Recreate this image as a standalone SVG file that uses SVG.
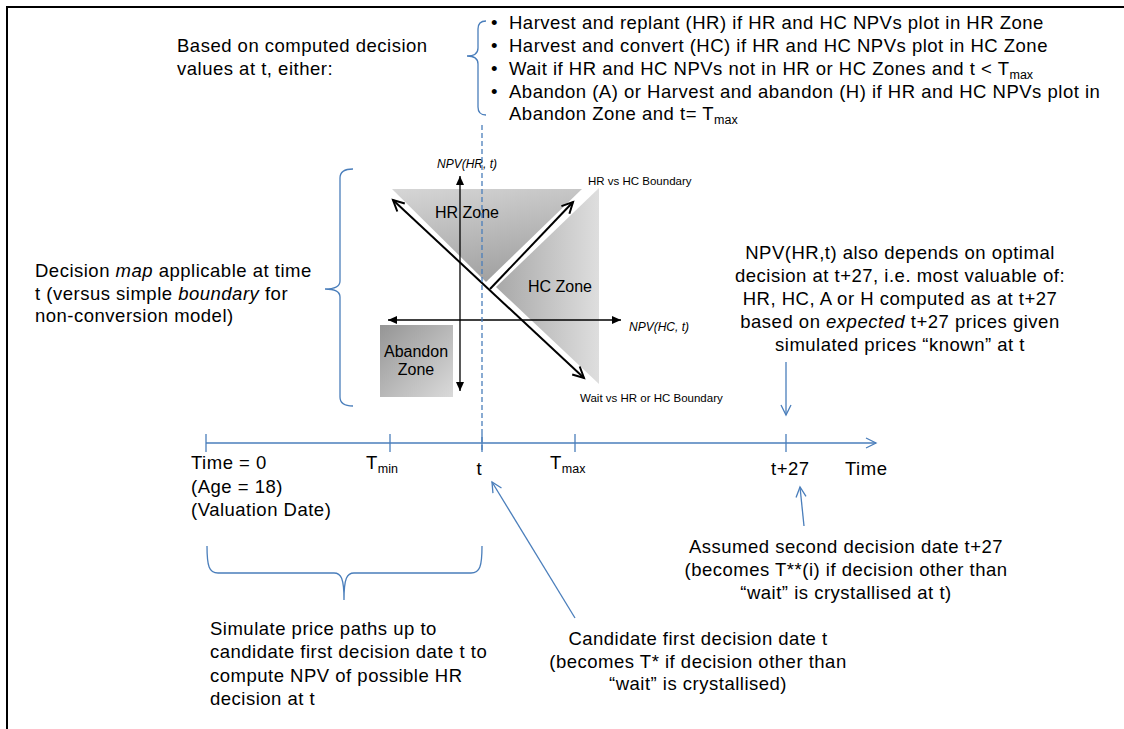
<svg xmlns="http://www.w3.org/2000/svg" width="1124" height="729" viewBox="0 0 1124 729">
<style>
text{font-family:"Liberation Sans",Arial,sans-serif;fill:#000}
.t{font-size:18.5px;letter-spacing:0.5px}
.sub{font-size:12.5px;letter-spacing:0}
.z{font-size:16px}
.sm{font-size:11.5px}
.it{font-size:12px;font-style:italic}
.blue{fill:none;stroke:#4a7ebb;stroke-width:1.3}
.blk{fill:none;stroke:#000;stroke-width:2}
.ax{fill:none;stroke:#000;stroke-width:1.3}
</style>
<defs>
<marker id="chevB" markerUnits="userSpaceOnUse" markerWidth="14" markerHeight="14" refX="12" refY="7" orient="auto-start-reverse" overflow="visible"><path d="M2,2 L12,7 L2,12" fill="none" stroke="#4a7ebb" stroke-width="1.3"/></marker>
<marker id="chevK" markerUnits="userSpaceOnUse" markerWidth="16" markerHeight="16" refX="13" refY="8" orient="auto-start-reverse" overflow="visible"><path d="M2,2.5 L13,8 L2,13.5" fill="none" stroke="#000" stroke-width="2"/></marker>
<marker id="triK" markerUnits="userSpaceOnUse" markerWidth="10" markerHeight="10" refX="9" refY="5" orient="auto-start-reverse" overflow="visible"><path d="M0,1 L9,5 L0,9 Z" fill="#000"/></marker>
<linearGradient id="gHR" x1="0" y1="0" x2="0.35" y2="1"><stop offset="0" stop-color="#d6d6d6"/><stop offset="1" stop-color="#a3a3a3"/></linearGradient>
<linearGradient id="gHC" x1="0" y1="0.5" x2="1" y2="0.5"><stop offset="0" stop-color="#a8a8a8"/><stop offset="1" stop-color="#dedede"/></linearGradient>
<linearGradient id="gAb" x1="0" y1="0" x2="1" y2="1"><stop offset="0" stop-color="#959595"/><stop offset="1" stop-color="#dadada"/></linearGradient>
</defs>
<rect width="1124" height="729" fill="#fff"/>
<path id="frame" d="M7,729 V7 H1124" fill="none" stroke="#000" stroke-width="2"/>

<g id="decision-rules">
<text class="t" x="177" y="52">Based on computed decision</text>
<text class="t" x="177" y="75">values at t, either:</text>
<text class="t" x="491" y="28.5">•</text>
<text class="t" x="509" y="28.5">Harvest and replant (HR) if HR and HC NPVs plot in HR Zone</text>
<text class="t" x="491" y="51.5">•</text>
<text class="t" x="509" y="51.5">Harvest and convert (HC) if HR and HC NPVs plot in HC Zone</text>
<text class="t" x="491" y="74.5">•</text>
<text class="t" x="509" y="74.5">Wait if HR and HC NPVs not in HR or HC Zones and t &lt; T<tspan class="sub" dy="4">max</tspan></text>
<text class="t" x="491" y="97.5">•</text>
<text class="t" x="509" y="97.5">Abandon (A) or Harvest and abandon (H) if HR and HC NPVs plot in</text>
<text class="t" x="509" y="119.5">Abandon Zone and t= T<tspan class="sub" dy="4">max</tspan></text>
</g>

<g id="decision-map-label">
<text class="t" x="35" y="276.5">Decision <tspan font-style="italic">map</tspan> applicable at time</text>
<text class="t" x="35" y="299.5">t (versus simple <tspan font-style="italic">boundary</tspan> for</text>
<text class="t" x="35" y="322">non-conversion model)</text>
</g>

<g id="hr-zone">
<polygon points="392,189 582,189 486,282" fill="url(#gHR)"/>
<text class="z" x="467" y="218" text-anchor="middle">HR Zone</text>
</g>
<g id="hc-zone">
<polygon points="599,188 599,384 496,287" fill="url(#gHC)"/>
<text class="z" x="560" y="292" text-anchor="middle">HC Zone</text>
</g>
<g id="abandon-zone">
<rect x="380" y="325" width="73" height="72" fill="url(#gAb)"/>
<text class="z" x="416" y="357" text-anchor="middle">Abandon</text>
<text class="z" x="416" y="375" text-anchor="middle">Zone</text>
</g>

<g id="axes">
<line class="ax" x1="460" y1="176" x2="460" y2="391" marker-start="url(#triK)" marker-end="url(#triK)"/>
<line class="ax" x1="388" y1="320" x2="621" y2="320" marker-start="url(#triK)" marker-end="url(#triK)"/>
<text class="it" x="437" y="168">NPV(HR, t)</text>
<text class="it" x="629" y="331">NPV(HC, t)</text>
</g>

<g id="boundaries">
<line class="blk" x1="393" y1="200" x2="584" y2="378" marker-start="url(#chevK)" marker-end="url(#chevK)"/>
<line class="blk" x1="490" y1="289" x2="573" y2="202" marker-end="url(#chevK)"/>
<text class="sm" x="588" y="185">HR vs HC Boundary</text>
<text class="sm" x="580" y="402">Wait vs HR or HC Boundary</text>
</g>

<g id="braces">
<path class="blue" d="M486,21 Q478,21 478,29 V48 Q478,56 467,56 Q478,56 478,64 V107 Q478,115 486,115"/>
<path class="blue" d="M353,169 Q340,169 340,178 V281 Q340,289 325,289 Q340,289 340,297 V397 Q340,406 353,406"/>
<path class="blue" d="M207,546 C207,566 209,573 218,573 L334,573 C341,573 344,578 344,600 C344,578 347,573 354,573 L471,573 C480,573 482,566 482,546"/>
</g>

<g id="timeline">
<line class="blue" x1="206" y1="443" x2="876" y2="443" marker-end="url(#chevB)"/>
<line class="blue" x1="206" y1="434" x2="206" y2="452"/>
<line class="blue" x1="390" y1="434" x2="390" y2="452"/>
<line class="blue" x1="482" y1="434" x2="482" y2="452"/>
<line class="blue" x1="575" y1="434" x2="575" y2="452"/>
<line class="blue" x1="786" y1="434" x2="786" y2="452"/>
<text class="t" x="191" y="469">Time = 0</text>
<text class="t" x="191" y="493">(Age = 18)</text>
<text class="t" x="191" y="516">(Valuation Date)</text>
<text class="t" x="366" y="469">T<tspan class="sub" dy="4">min</tspan></text>
<text class="t" x="476.5" y="475">t</text>
<text class="t" x="550" y="469">T<tspan class="sub" dy="4">max</tspan></text>
<text class="t" x="771" y="475">t+27</text>
<text class="t" x="845" y="475">Time</text>
</g>

<g id="notes">
<text class="t" text-anchor="middle" x="900" y="258.5">NPV(HR,t) also depends on optimal</text>
<text class="t" text-anchor="middle" x="900" y="281.5">decision at t+27, i.e. most valuable of:</text>
<text class="t" text-anchor="middle" x="900" y="304.5">HR, HC, A or H computed as at t+27</text>
<text class="t" text-anchor="middle" x="900" y="328">based on <tspan font-style="italic">expected</tspan> t+27 prices given</text>
<text class="t" text-anchor="middle" x="900" y="351">simulated prices “known” at t</text>
<text class="t" x="210" y="634.5">Simulate price paths up to</text>
<text class="t" x="210" y="658">candidate first decision date t to</text>
<text class="t" x="210" y="681.5">compute NPV of possible HR</text>
<text class="t" x="210" y="704.5">decision at t</text>
<text class="t" text-anchor="middle" x="698" y="644.5">Candidate first decision date t</text>
<text class="t" text-anchor="middle" x="698" y="667.5">(becomes T* if decision other than</text>
<text class="t" text-anchor="middle" x="698" y="690">“wait” is crystallised)</text>
<text class="t" text-anchor="middle" x="846" y="552.5">Assumed second decision date t+27</text>
<text class="t" text-anchor="middle" x="846" y="575.5">(becomes T**(i) if decision other than</text>
<text class="t" text-anchor="middle" x="846" y="598.5">“wait” is crystallised at t)</text>
</g>

<g id="connectors">
<line class="blue" x1="482" y1="125" x2="482" y2="452" stroke-dasharray="5,3"/>
<line class="blue" x1="786" y1="362" x2="786" y2="415" marker-end="url(#chevB)"/>
<line class="blue" x1="804" y1="526" x2="800" y2="487" marker-end="url(#chevB)"/>
<line class="blue" x1="575" y1="618" x2="492" y2="482" marker-end="url(#chevB)"/>
</g>
</svg>
